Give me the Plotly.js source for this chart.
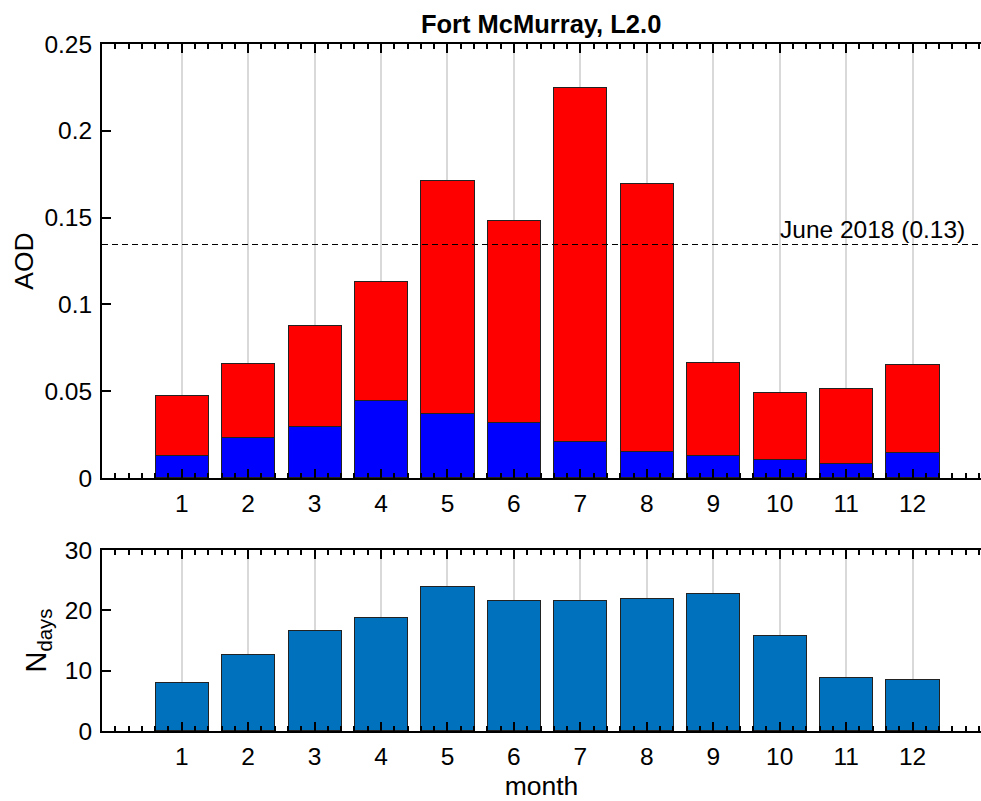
<!DOCTYPE html>
<html>
<head>
<meta charset="utf-8">
<script src="https://cdn.plot.ly/plotly-3.0.1.min.js"></script>
<style>html,body{margin:0;padding:0;background:#fff;}#chart{width:981px;height:801px;}</style>
</head>
<body>
<div id="chart"></div>
<script>
// Data
const months = [1, 2, 3, 4, 5, 6, 7, 8, 9, 10, 11, 12];
const monthLabels = ["1", "2", "3", "4", "5", "6", "7", "8", "9", "10", "11", "12"];
const aodFine = [0.0132, 0.0236, 0.0294, 0.0449, 0.0369, 0.0317, 0.0213, 0.0150, 0.0127, 0.0109, 0.0086, 0.0144];
const aodCoarse = [0.0346, 0.0421, 0.0582, 0.0680, 0.1342, 0.1169, 0.2034, 0.1544, 0.0541, 0.0381, 0.0427, 0.0507];
const nDays = [8.0, 12.6, 16.7, 18.8, 24.0, 21.7, 21.7, 22.0, 22.8, 15.9, 8.9, 8.5];
const june2018Value = 0.1345;
const june2018Label = "June 2018 (0.13)";
const aodTicks = [0, 0.05, 0.1, 0.15, 0.2, 0.25];
const aodTickLabels = ["0", "0.05", "0.1", "0.15", "0.2", "0.25"];
const nTicks = [0, 10, 20, 30];

const FONT = "Liberation Sans, Arial, sans-serif";
const tickFont = {family: FONT, size: 24.5, color: "#000"};
const labelFont = {family: FONT, size: 26.5, color: "#000"};
const edge = {color: "#222", width: 1};

const traces = [
  {type: "bar", x: months, y: aodFine, xaxis: "x", yaxis: "y", width: 0.8,
   marker: {color: "#0000ff", line: edge}, hoverinfo: "skip"},
  {type: "bar", x: months, y: aodCoarse, xaxis: "x", yaxis: "y", width: 0.8,
   marker: {color: "#ff0000", line: edge}, hoverinfo: "skip"},
  {type: "bar", x: months, y: nDays, xaxis: "x2", yaxis: "y2", width: 0.8,
   marker: {color: "#0072bd", line: edge}, hoverinfo: "skip"}
];

function xAxis(anchor, showTitle) {
  const ax = {
    anchor: anchor, range: [-0.2, 13.03], tickmode: "array", tickvals: months, ticktext: monthLabels,
    ticks: "inside", ticklen: 9, tickwidth: 2, tickcolor: "#000", ticklabelstandoff: 3,
    showline: true, linewidth: 2, linecolor: "#000", mirror: "ticks",
    showgrid: true, gridcolor: "#d9d9d9", gridwidth: 2, zeroline: false,
    tickfont: tickFont, fixedrange: true,
    minor: {tickmode: "linear", tick0: 0, dtick: 0.2, ticks: "inside", ticklen: 5, tickwidth: 2, tickcolor: "#000", showgrid: false}
  };
  if (showTitle) ax.title = {text: "month", font: labelFont, standoff: 9};
  return ax;
}

const layout = {
  width: 981, height: 801,
  margin: {l: 101.5, r: 0, t: 44, b: 70},
  paper_bgcolor: "#fff", plot_bgcolor: "#fff",
  showlegend: false, barmode: "stack", bargap: 0.2,
  font: {family: FONT, color: "#000"},
  title: {text: "<b>Fort McMurray, L2.0</b>", font: {family: FONT, size: 25.5, color: "#000"},
          x: 0.5516, xanchor: "center", y: 0.970, yanchor: "middle"},
  xaxis: xAxis("y", false),
  yaxis: {domain: [0.3683, 1], anchor: "x", range: [0, 0.25], tickmode: "array", tickvals: aodTicks, ticktext: aodTickLabels,
          ticks: "inside", ticklen: 9, tickwidth: 2, tickcolor: "#000", ticklabelstandoff: 3,
          showline: true, linewidth: 2, linecolor: "#000", showgrid: false, zeroline: false,
          tickfont: tickFont, fixedrange: true,
          title: {text: "AOD", font: labelFont, standoff: 3}},
  xaxis2: xAxis("y2", true),
  yaxis2: {domain: [0, 0.2635], anchor: "x2", range: [0, 30], tickmode: "array", tickvals: nTicks,
           ticks: "inside", ticklen: 9, tickwidth: 2, tickcolor: "#000", ticklabelstandoff: 3,
           showline: true, linewidth: 2, linecolor: "#000", showgrid: false, zeroline: false,
           tickfont: tickFont, fixedrange: true,
           title: {text: "N<sub>days</sub>", font: {family: FONT, size: 29, color: "#000"}, standoff: 10}},
  shapes: [{type: "line", xref: "paper", yref: "y", x0: 0, x1: 1, y0: june2018Value, y1: june2018Value,
            line: {color: "#000", width: 1, dash: "6px,4px"}}],
  annotations: [{xref: "x", yref: "y", x: 12.82, y: june2018Value, xanchor: "right", yanchor: "bottom",
                 yshift: 0, text: june2018Label, showarrow: false, font: {family: FONT, size: 24.5, color: "#000"}}]
};

Plotly.newPlot("chart", traces, layout, {displayModeBar: false, staticPlot: true});
</script>
</body>
</html>
